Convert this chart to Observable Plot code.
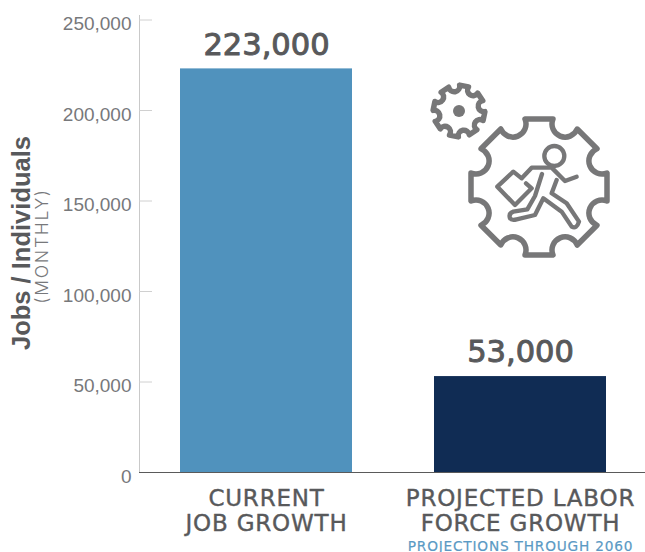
<!DOCTYPE html>
<html><head><meta charset="utf-8">
<script src="https://cdn.jsdelivr.net/npm/d3@7"></script>
<script src="https://cdn.jsdelivr.net/npm/@observablehq/plot@0.6"></script>
<style>html,body{margin:0;padding:0;background:#fff}svg{display:block}</style>
</head><body><div id="chart"></div>
<script>
const categories = ["CURRENT\nJOB GROWTH", "PROJECTED LABOR\nFORCE GROWTH"];
const values = [223000, 53000];
const valueLabels = ["223,000", "53,000"];
const barColors = ["#5092bd", "#102c54"];
const yTicks = [0, 50000, 100000, 150000, 200000, 250000];
const subLabel = "PROJECTIONS THROUGH 2060";
const rows = categories.map((c, i) => ({c, v: values[i], label: valueLabels[i], color: barColors[i]}));

const spaced = (s) => (index, scales, vals, dims, ctx, next) => {
  const g = next(index, scales, vals, dims, ctx);
  g.style.letterSpacing = s;
  return g;
};

function gearPath(cx, cy, n, R, halfFlat, scoop, rot) {
  let d = "";
  const step = 2 * Math.PI / n;
  for (let k = 0; k < n; k++) {
    const a = rot + k * step;
    const ux = Math.sin(a), uy = -Math.cos(a);
    const vx = Math.cos(a), vy = Math.sin(a);
    const x0 = cx + ux * R - vx * halfFlat, y0 = cy + uy * R - vy * halfFlat;
    const x1 = cx + ux * R + vx * halfFlat, y1 = cy + uy * R + vy * halfFlat;
    d += (k ? "L" : "M") + x0 + "," + y0 + "L" + x1 + "," + y1;
    const b = a + step;
    const ux2 = Math.sin(b), uy2 = -Math.cos(b), vx2 = Math.cos(b), vy2 = Math.sin(b);
    const x2 = cx + ux2 * R - vx2 * halfFlat, y2 = cy + uy2 * R - vy2 * halfFlat;
    d += "A" + scoop + "," + scoop + " 0 0 0 " + x2 + "," + y2;
  }
  return d + "Z";
}

const icon = () => {
  const g = d3.create("svg:g").attr("fill", "none").attr("stroke", "#777778")
    .attr("stroke-linejoin", "round").attr("stroke-linecap", "round");
  g.append("path").attr("stroke-width", 5.5).attr("d", gearPath(539, 187, 8, 68, 14, 12.5, 0));
  g.append("path").attr("stroke-width", 5.5).attr("d", gearPath(459, 111, 8, 25.5, 4.5, 5.2, 0.2));
  g.append("circle").attr("cx", 459).attr("cy", 111).attr("r", 6).attr("fill", "#777778").attr("stroke", "none");
  const r = g.append("g").attr("transform", "translate(420,70) scale(0.3333)").attr("stroke-width", 13);
  r.append("circle").attr("cx", 403).attr("cy", 258).attr("r", 30);
  r.append("path").attr("d", "M308,322L335,293L395,293L435,333L470,320");
  r.append("path").attr("d", "M366,312L345,378L322,418L280,425Q265,430 270,445Q275,452 290,448L345,435L370,385L425,425L455,470Q470,478 477,455L440,400L395,370L410,330");
  r.append("path").attr("d", "M318,340L335,355L285,405L232,350L280,305L305,325");
  return g.node();
};

const plot = Plot.plot({
  width: 645, height: 552,
  marginLeft: 139, marginRight: -2, marginTop: 15, marginBottom: 80,
  style: {background: "#fff"},
  x: {domain: categories, paddingInner: 0.323, paddingOuter: 0.1614, axis: null},
  y: {domain: [0, 252500], axis: null},
  marks: [
    Plot.frame({anchor: "left", stroke: "#c9c9c9", strokeOpacity: 1}),
    Plot.tickY(yTicks.slice(1), {y: d => d, insetRight: 495, stroke: "#d0d0d0"}),
    Plot.axisY({ticks: yTicks, tickSize: 0, tickPadding: 8, dy: 4, tickFormat: d3.format(","), fontSize: 19, fontFamily: "Liberation Sans", color: "#77787b", label: null}),
    Plot.barY(rows, {x: "c", y: "v", fill: "color"}),
    Plot.ruleY([0], {stroke: "#5a5a5a"}),
    Plot.text(rows, {x: "c", y: "v", text: "label", dy: -24, fontSize: 30.5, fontFamily: "DejaVu Sans", fill: "#58595b", stroke: "#58595b", strokeWidth: 1}),
    Plot.text(rows, {x: "c", frameAnchor: "bottom", text: "c", dy: 16, lineHeight: 1.09, lineAnchor: "top", fontSize: 23, fontFamily: "DejaVu Sans", fill: "#58595b", stroke: "#58595b", strokeWidth: 0.4, render: spaced("0.8px")}),
    Plot.text([subLabel], {x: () => categories[1], frameAnchor: "bottom", dy: 78, text: d => d, fontSize: 13.7, fontFamily: "DejaVu Sans", fill: "#5b9ac4", stroke: "#5b9ac4", strokeWidth: 0.2, render: spaced("0.8px")}),
    Plot.text(["Jobs / Individuals"], {frameAnchor: "left", textAnchor: "middle", text: d => d, rotate: -90, dx: -118, dy: -1, fontSize: 25.5, fontWeight: 700, fontFamily: "Liberation Sans", fill: "#58595b"}),
    Plot.text(["(MONTHLY)"], {frameAnchor: "left", textAnchor: "middle", text: d => d, rotate: -90, dx: -97, dy: 2, fontSize: 17.5, fontFamily: "Inter", fontWeight: 300, fill: "#77787b", render: spaced("1.8px")}),
    icon
  ]
});
document.getElementById("chart").append(plot);
</script></body></html>
